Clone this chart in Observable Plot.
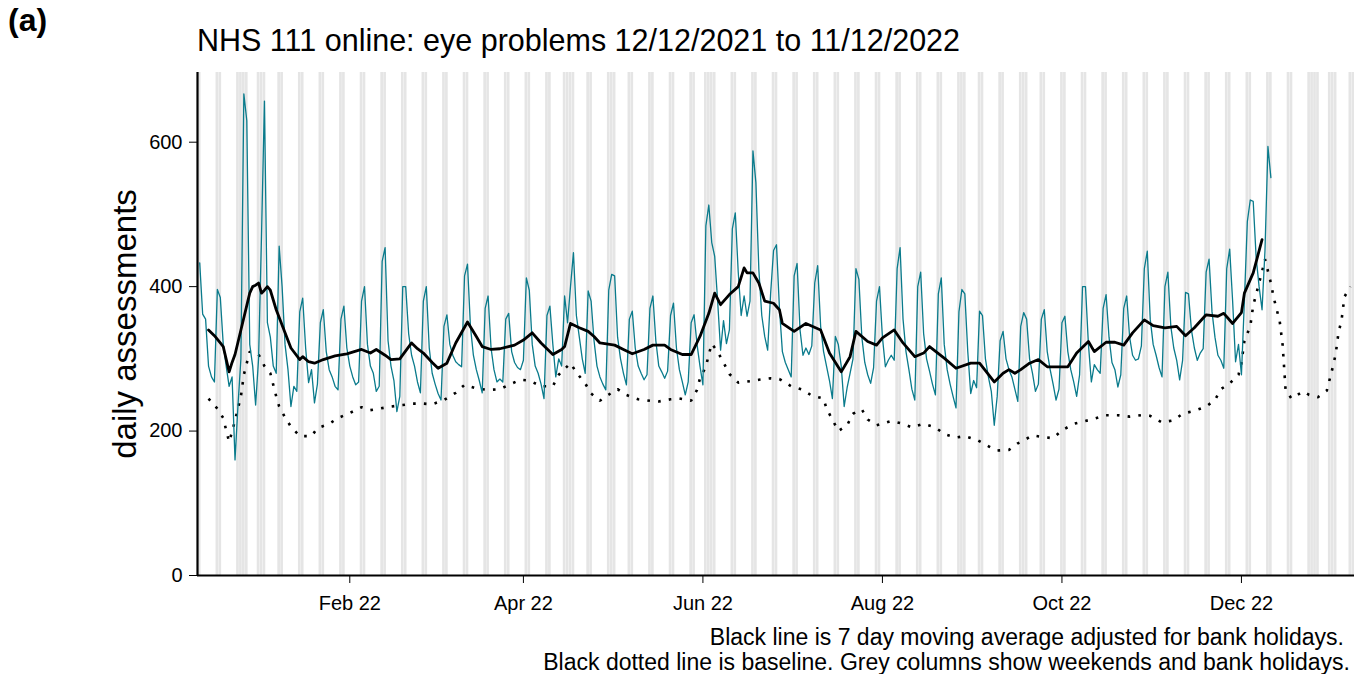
<!DOCTYPE html>
<html><head><meta charset="utf-8">
<script src="https://cdn.jsdelivr.net/npm/d3@7"></script>
<script src="https://cdn.jsdelivr.net/npm/@observablehq/plot@0.6"></script>
<style>
body{margin:0;background:#fff;font-family:"Liberation Sans",Arial,sans-serif;color:#000;}
#wrap{position:relative;width:1354px;height:674px;overflow:hidden;background:#fff;}
#tag{position:absolute;left:8px;top:4px;font-size:32px;line-height:32px;font-weight:bold;}
#title{position:absolute;left:197px;top:25px;font-size:30.5px;line-height:30px;white-space:nowrap;}
#chart{position:absolute;left:0;top:60px;}
.cap{position:absolute;font-size:23px;line-height:26px;white-space:nowrap;text-align:right;}
#cap1{right:10px;top:624px;}
#cap2{right:4px;top:649px;}
</style></head><body>
<div id="wrap">
  <div id="tag">(a)</div>
  <div id="title">NHS 111 online: eye problems 12/12/2021 to 11/12/2022</div>
  <div id="chart"></div>
  <div class="cap" id="cap1">Black line is 7 day moving average adjusted for bank holidays.</div>
  <div class="cap" id="cap2">Black dotted line is baseline. Grey columns show weekends and bank holidays.</div>
</div>
<script>
// ---- data ----
const seriesStart = "2021-12-12"; // first day of daily series (day 0)
// daily assessments, one value per day from 12 Dec 2021 (Sun) to 11 Dec 2022, rows = weeks Sun..Sat
const dailyAssessments = [
433,362,355,290,275,268,396,
385,320,290,262,275,160,235,
300,667,630,320,290,236,300,
470,657,350,330,290,280,456,
400,320,285,234,262,255,365,
384,315,267,285,239,265,350,
368,310,285,275,262,257,355,
373,315,290,275,264,268,380,
400,320,290,280,255,262,435,
454,325,290,270,227,248,400,
400,335,305,290,268,253,380,
400,315,280,265,252,243,345,
361,320,305,296,292,289,415,
431,345,305,285,270,253,370,
387,315,285,268,272,268,355,
363,310,295,288,285,298,412,
395,320,290,280,265,245,360,
373,320,275,300,290,387,350,
400,447,360,330,300,280,394,
380,325,290,275,265,257,395,
417,415,330,300,280,264,355,
366,315,290,280,271,278,370,
387,325,290,282,273,283,360,
377,315,285,268,250,268,350,
361,320,290,264,484,513,461,
442,380,312,353,321,340,480,
502,420,360,387,359,380,588,
544,424,360,331,312,390,450,
458,370,310,295,285,275,415,
432,340,305,315,306,318,405,
429,345,310,290,270,245,331,
320,290,234,260,280,300,425,
410,330,295,278,266,288,380,
400,330,289,298,305,298,425,
454,355,310,285,258,243,400,
420,335,300,283,265,250,390,
412,320,285,265,248,232,365,
396,390,310,252,270,260,366,
360,300,275,255,208,248,325,
338,300,285,275,258,241,345,
364,355,300,280,255,265,355,
368,310,285,265,243,258,350,
359,310,285,268,248,278,400,
400,320,268,292,285,280,370,
389,330,295,285,261,278,370,
387,330,305,298,300,318,425,
449,355,320,305,288,275,400,
420,345,315,298,271,298,392,
390,340,315,298,308,314,420,
438,365,330,305,298,287,425,
452,380,296,320,278,380,490,
520,518,440,400,368,450,594,
551];
// 7 day moving average: day number (days since 12 Dec 2021) and value
const maDay = [3,5,7,8,10,11,12,14,17,18,19,20,21,22,23,24,26,29,31,34,35,37,39,42,46,50,55,58,60,63,65,68,72,74,76,79,81,84,87,91,94,96,99,102,107,110,113,116,120,123,124,126,129,132,134,136,141,144,147,151,154,158,160,164,167,170,173,175,177,180,183,185,186,188,190,192,195,197,198,202,206,211,214,218,221,223,227,230,232,236,239,243,246,248,253,257,262,265,270,273,275,277,279,282,285,288,292,295,298,302,304,308,311,314,317,321,324,328,332,335,338,342,346,348,351,354,355,358,361];
const maValue = [340,332,322,317,282,295,306,340,391,400,402,405,391,395,400,395,368,336,315,299,303,296,294,299,304,307,313,308,313,305,299,300,322,314,308,295,287,294,322,351,331,317,313,314,319,326,336,322,306,313,317,349,343,338,331,322,319,313,307,313,319,319,313,306,306,331,363,391,375,389,400,426,419,419,405,380,377,368,349,338,349,340,308,282,303,338,324,319,329,340,322,303,308,317,301,287,294,294,268,280,285,280,285,294,299,289,289,289,308,324,310,323,323,319,336,354,346,343,345,332,343,361,359,363,349,364,391,419,465];
// baseline: day number and value
const baseDay = [3,6,8,9,10,11,12,13,14,15,16,17,20,22,24,25,26,27,29,31,34,38,40,44,47,51,55,58,61,65,69,72,76,79,83,87,90,94,98,102,105,109,112,116,120,122,124,126,128,131,133,136,138,142,145,149,153,156,160,163,167,169,170,172,173,174,176,178,180,183,187,190,194,197,201,205,208,212,213,215,217,220,222,225,227,230,235,239,242,246,250,253,257,260,264,268,271,275,278,280,283,286,290,293,297,300,304,308,312,316,320,323,327,331,334,338,342,345,347,350,353,354,355,357,358,360,361,362,364,365,366,367,368,369,371,375,377,380,383,384,385,386,387,388,389,391];
const baseValue = [245,231,218,201,185,199,215,231,248,278,294,310,306,290,280,264,248,234,219,206,193,193,204,210,218,225,233,229,231,234,236,238,238,237,243,253,264,259,257,258,264,271,270,262,262,278,286,294,281,266,252,242,248,258,250,244,242,241,244,245,242,257,273,289,306,321,310,295,279,267,269,271,273,272,262,257,249,245,231,216,200,208,224,230,216,208,214,210,205,210,205,196,191,193,188,179,173,174,183,187,194,192,190,201,210,213,217,222,222,220,222,221,212,215,224,228,234,243,258,266,278,294,325,345,374,405,421,438,405,384,368,352,319,257,245,255,250,247,256,272,288,306,337,353,386,400];
const bankHolidays = ["2021-12-27","2021-12-28","2022-01-03","2022-04-15","2022-04-18","2022-05-02","2022-06-02","2022-06-03","2022-08-29","2022-09-19","2022-12-26","2022-12-27","2023-01-02"];
const axisStart = "2021-12-11T06:00Z", axisEnd = "2023-01-08T10:00Z";
const tickDates = ["2022-02-01","2022-04-01","2022-06-01","2022-08-01","2022-10-01","2022-12-01"];
const tickLabels = ["Feb 22","Apr 22","Jun 22","Aug 22","Oct 22","Dec 22"];
const yTicks = [0,200,400,600];
const yMax = 696.5;
const yTitle = "daily assessments";

// ---- build ----
const DAY = 864e5;
const t0 = Date.parse(seriesStart + "T00:00Z");
const dayDate = n => new Date(t0 + n * DAY);
const daily = dailyAssessments.map((v, i) => ({date: dayDate(i), value: v}));
const ma = maDay.map((d, i) => ({date: dayDate(d), value: maValue[i]}));
const base = baseDay.map((d, i) => ({date: dayDate(d), value: baseValue[i]}));
const xDomain = [new Date(axisStart), new Date(axisEnd)];
const bh = new Set(bankHolidays);
const grey = [];
for (let t = Date.parse("2021-12-12T00:00Z"); t <= Date.parse("2023-01-08T00:00Z"); t += DAY) {
  const d = new Date(t), wd = d.getUTCDay();
  if (wd === 0 || wd === 6 || bh.has(d.toISOString().slice(0, 10))) grey.push(d);
}
const labelOf = new Map(tickDates.map((d, i) => [d, tickLabels[i]]));

const chart = Plot.plot({
  width: 1354, height: 560,
  marginLeft: 197, marginRight: 0, marginTop: 12, marginBottom: 45,
  style: {fontFamily: "'Liberation Sans', Arial, sans-serif", fontSize: "20px", color: "black", background: "white", overflow: "visible"},
  x: {type: "utc", domain: xDomain, ticks: tickDates.map(d => new Date(d + "T00:00Z")),
      tickFormat: d => labelOf.get(d.toISOString().slice(0, 10)), tickSize: 8, tickPadding: 12, label: null},
  y: {domain: [0, yMax], ticks: yTicks, tickSize: 8, tickPadding: 7, label: null},
  marks: [
    Plot.rect(grey, {x1: d => new Date(+d - 0.45 * DAY), x2: d => new Date(+d + 0.45 * DAY), y1: 0, y2: yMax, fill: "#e5e5e5"}),
    Plot.line(base, {x: "date", y: "value", stroke: "black", strokeWidth: 2.6, strokeDasharray: "2.6,8.2", strokeLinecap: "butt", strokeLinejoin: "miter"}),
    Plot.line(daily, {x: "date", y: "value", stroke: "#0a7b8c", strokeWidth: 1.3}),
    Plot.line(ma, {x: "date", y: "value", stroke: "black", strokeWidth: 2.8}),
    Plot.ruleY([0], {stroke: "black", strokeWidth: 2.2}),
    Plot.ruleX([xDomain[0]], {stroke: "black", strokeWidth: 2.2}),
    Plot.text([yTitle], {text: d => d, frameAnchor: "left", rotate: -90, dx: -72, fontSize: 33, textAnchor: "middle", lineAnchor: "middle", fill: "black"})
  ]
});
document.getElementById("chart").appendChild(chart);
</script>
</body></html>
